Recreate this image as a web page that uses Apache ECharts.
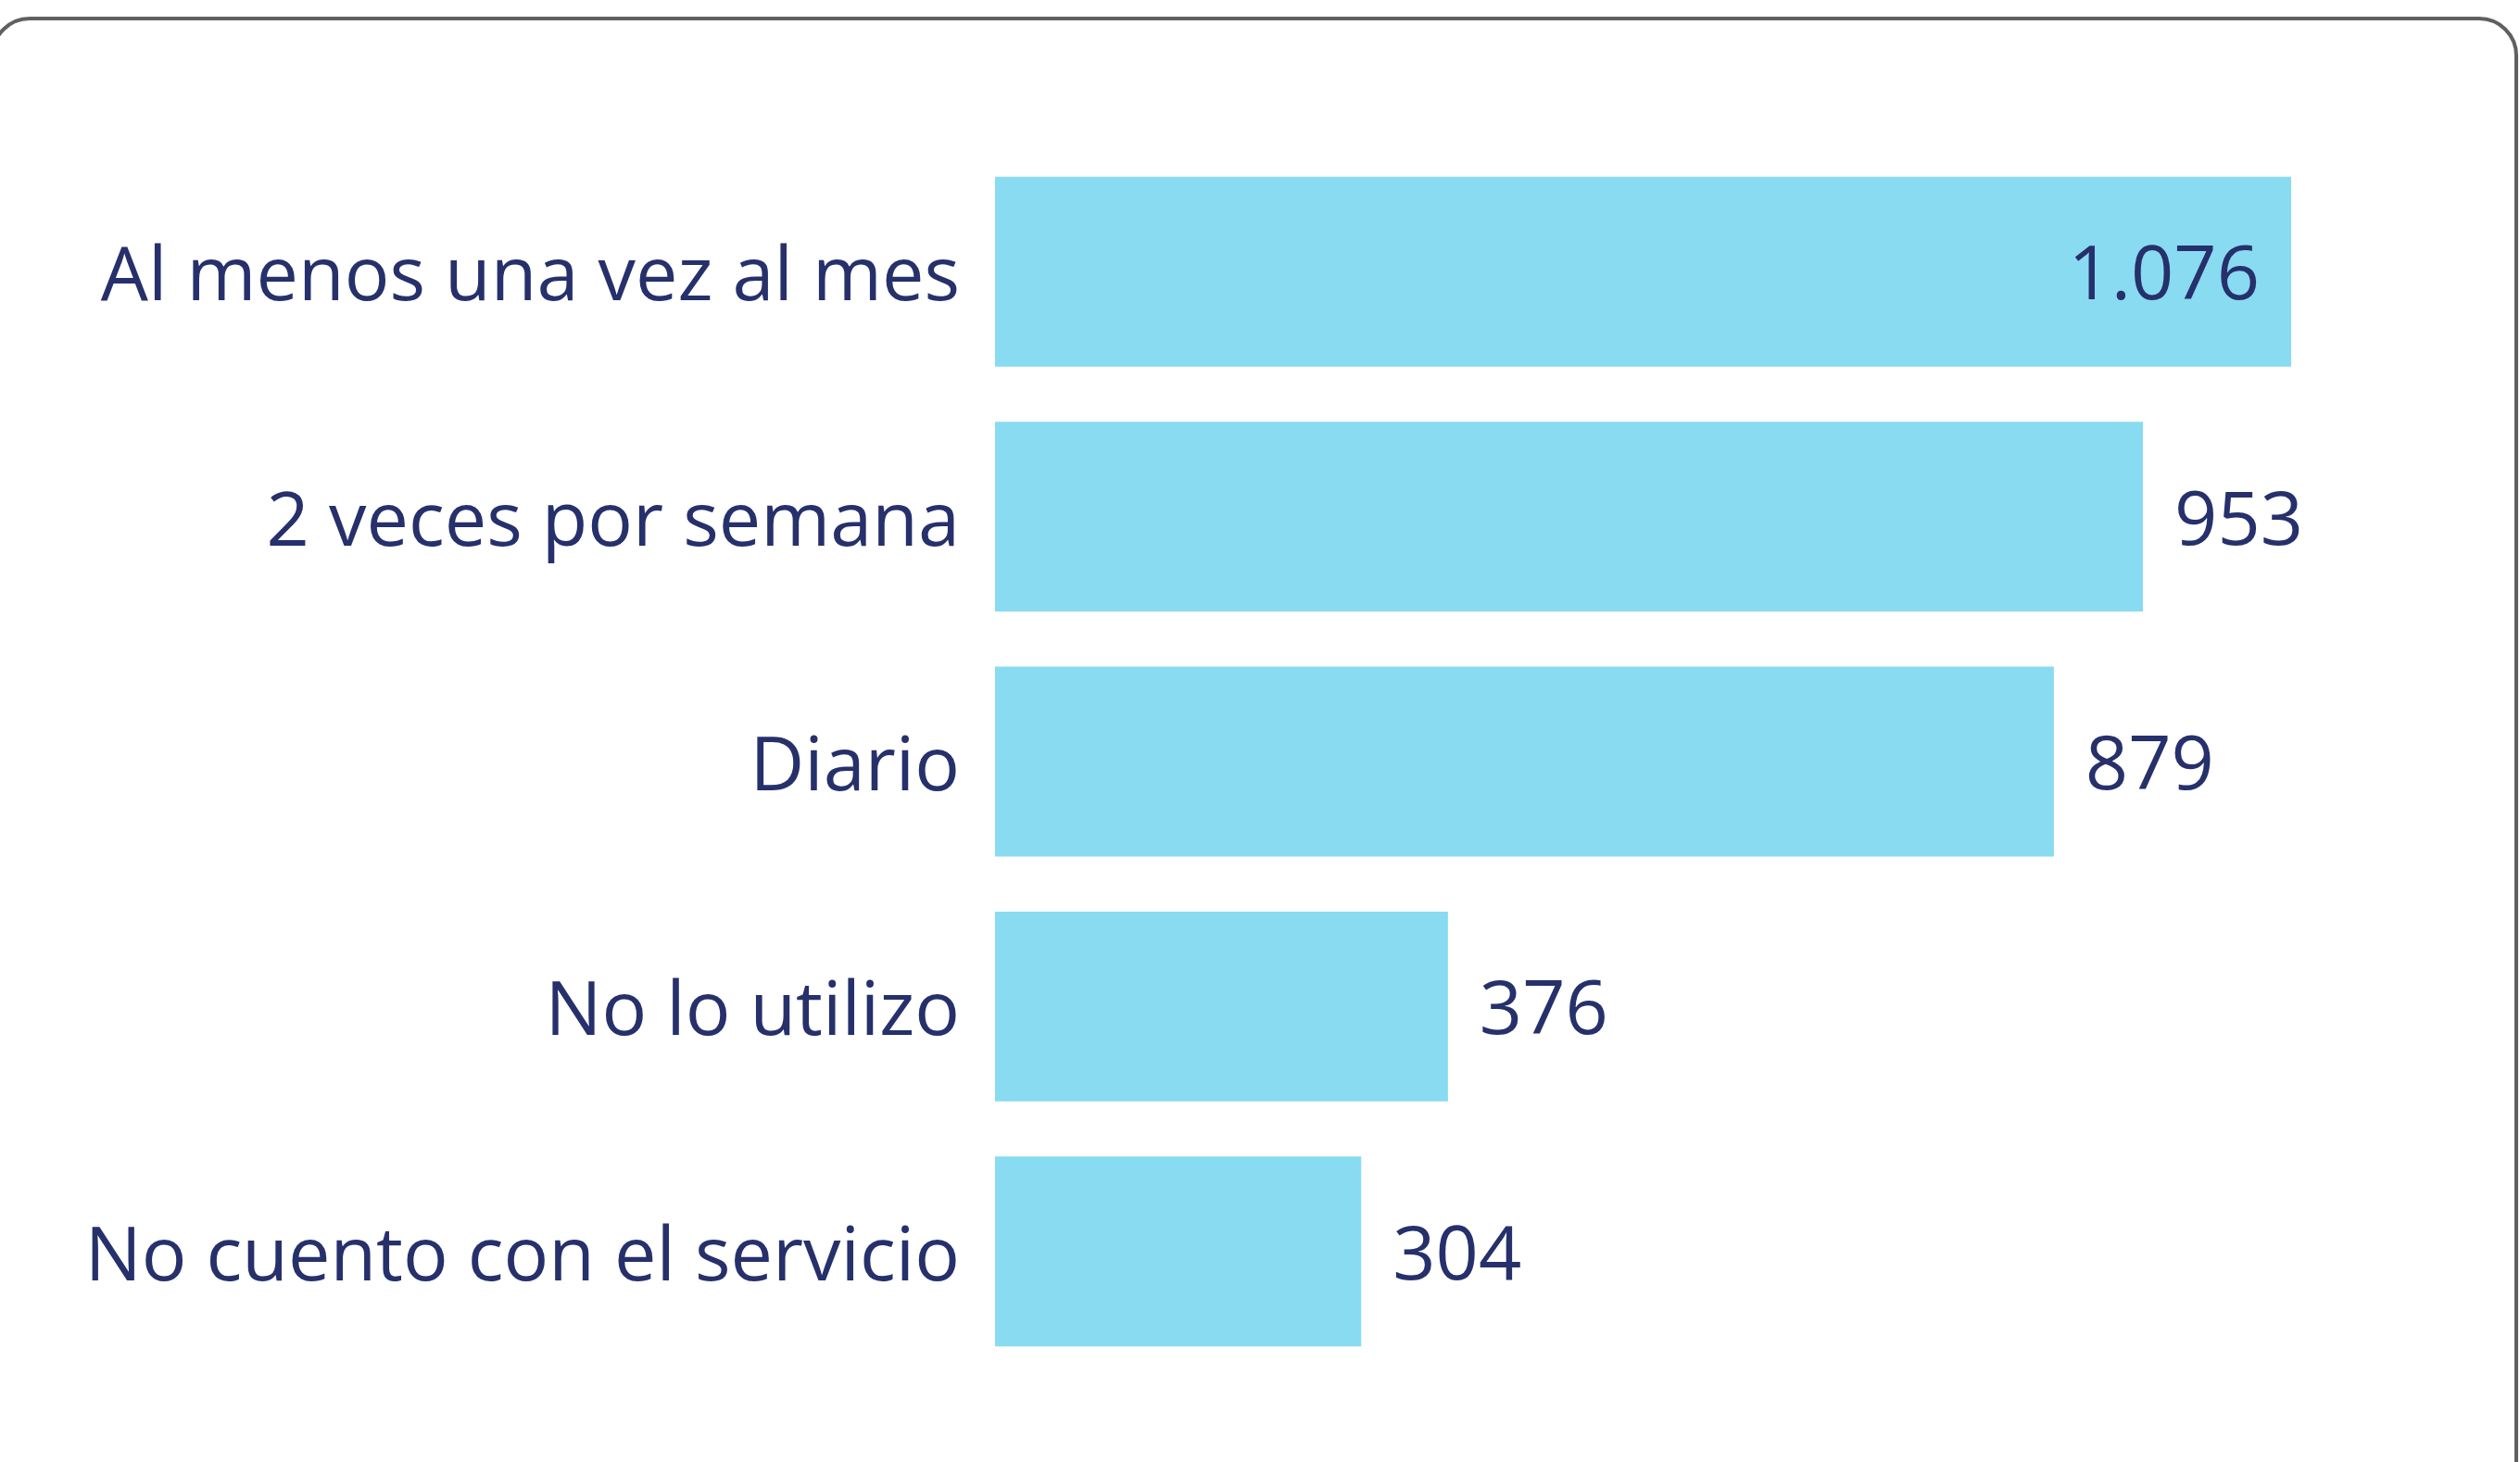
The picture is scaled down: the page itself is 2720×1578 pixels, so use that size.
<!DOCTYPE html>
<html>
<head>
<meta charset="utf-8">
<script src="https://cdn.jsdelivr.net/npm/echarts@6/dist/echarts.min.js"></script>
<style>
  html, body { margin: 0; padding: 0; background: #fff; }
  #chart { width: 2720px; height: 1578px; }
</style>
</head>
<body>
<div id="chart"></div>
<script>
const categories = [
  'Al menos una vez al mes',
  '2 veces por semana',
  'Diario',
  'No lo utilizo',
  'No cuento con el servicio'
]
const values = [1076, 953, 879, 376, 304]
// the biggest bar carries its label inside, the rest outside
const insideLabel = [true, false, false, false, false]

const navy = '#26306b'
const barColor = '#88dbf1'
const font = '"Open Sans", "Noto Sans", sans-serif'

// 1076 -> "1.076"
function fmt(v) {
  return String(v).replace(/\B(?=(\d{3})+(?!\d))/g, '.')
}

const chart = echarts.init(document.getElementById('chart'), null, { renderer: 'canvas' })

chart.setOption({
  animation: false,
  backgroundColor: '#fff',
  graphic: [
    {
      type: 'rect',
      shape: { x: -8, y: 20, width: 2724, height: 1640, r: 40 },
      style: { fill: 'none', stroke: '#606060', lineWidth: 4 },
      z: 0
    }
  ],
  grid: { left: 1074, right: 247, top: 161, bottom: 95 },
  xAxis: {
    type: 'value',
    min: 0,
    max: 1076,
    show: false
  },
  yAxis: {
    type: 'category',
    inverse: true,
    data: categories,
    axisLine: { show: false },
    axisTick: { show: false },
    axisLabel: {
      margin: 38,
      formatter: (v) => '{t|' + v + '}',
      rich: {
        t: {
          color: navy,
          fontSize: 81,
          fontFamily: font,
          padding: [16, 0, 0, 0]
        }
      }
    }
  },
  series: [
    {
      type: 'bar',
      barCategoryGap: '22.5%',
      itemStyle: { color: barColor },
      data: values.map((v, i) => ({
        value: v,
        label: {
          show: true,
          position: insideLabel[i] ? 'insideRight' : 'right',
          distance: 34,
          offset: [0, 7],
          color: navy,
          fontSize: 81,
          fontFamily: font,
          formatter: (p) => fmt(p.value)
        }
      }))
    }
  ]
})
</script>
</body>
</html>
